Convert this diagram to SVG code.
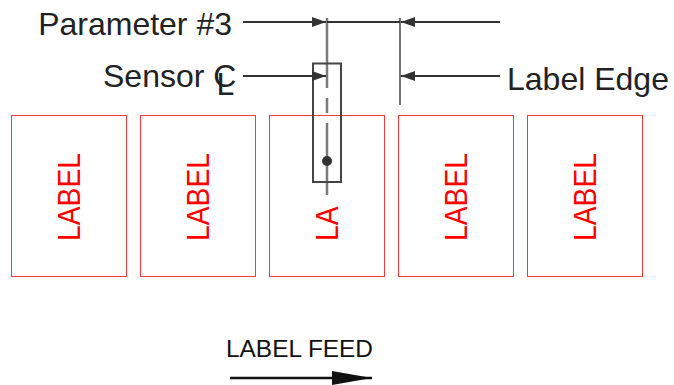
<svg xmlns="http://www.w3.org/2000/svg" width="674" height="385" viewBox="0 0 674 385">
<style>
.box{fill:none;stroke:#f03a3a;stroke-width:1}
.lbl{font-family:"Liberation Sans",Arial,sans-serif;font-size:31px;fill:#ff0000}
.call{font-family:"Liberation Sans",Arial,sans-serif;font-size:32px;fill:#222}
.dim{stroke:#333;stroke-width:2;fill:none}
.ext{stroke:#444;stroke-width:1.5;fill:none}
</style>
<defs>
<marker id="ah" viewBox="0 0 14 10" refX="14" refY="5" markerWidth="14" markerHeight="10" markerUnits="userSpaceOnUse" orient="auto">
<path d="M0,0 L14,5 L0,10 Z" fill="#333"/>
</marker>
<marker id="feed" viewBox="0 0 40 14" refX="40" refY="7" markerWidth="40" markerHeight="14" markerUnits="userSpaceOnUse" orient="auto">
<path d="M0,0 L40,7 L0,14 Z" fill="#111"/>
</marker>
</defs>
<rect width="674" height="385" fill="#fff"/>
<g id="label1"><rect class="box" x="11.5" y="115.5" width="115" height="161"/><text class="lbl" transform="translate(80,241) rotate(-90)" textLength="88" lengthAdjust="spacingAndGlyphs">LABEL</text></g>
<g id="label2"><rect class="box" x="140.5" y="115.5" width="115" height="161"/><text class="lbl" transform="translate(209,241) rotate(-90)" textLength="88" lengthAdjust="spacingAndGlyphs">LABEL</text></g>
<g id="label3"><rect class="box" x="269.5" y="115.5" width="115" height="161"/><text class="lbl" transform="translate(338,241) rotate(-90)" textLength="34.5" lengthAdjust="spacingAndGlyphs">LA</text></g>
<g id="label4"><rect class="box" x="398.5" y="115.5" width="115" height="161"/><text class="lbl" transform="translate(467,241) rotate(-90)" textLength="88" lengthAdjust="spacingAndGlyphs">LABEL</text></g>
<g id="label5"><rect class="box" x="527.5" y="115.5" width="115" height="161"/><text class="lbl" transform="translate(596,241) rotate(-90)" textLength="88" lengthAdjust="spacingAndGlyphs">LABEL</text></g>
<g id="sensor">
<line x1="327" y1="18" x2="327" y2="88" stroke="#7a7a7a" stroke-width="2.5"/>
<line x1="327" y1="98" x2="327" y2="113" stroke="#7a7a7a" stroke-width="2.5"/>
<line x1="327" y1="123" x2="327" y2="195" stroke="#7a7a7a" stroke-width="2.5"/>
<rect x="313" y="63.5" width="28" height="118.5" fill="none" stroke="#444" stroke-width="2"/>
<circle cx="327" cy="161" r="5" fill="#333"/>
</g>
<g id="edge"><line class="ext" x1="400" y1="18" x2="400" y2="105"/></g>
<g id="callouts">
<text class="call" x="232" y="35" text-anchor="end">Parameter #3</text>
<text class="call" x="103" y="87">Sensor C<tspan dx="-20" dy="8">L</tspan></text>
<text class="call" x="507" y="90">Label Edge</text>
<text x="226" y="357" font-family="Liberation Sans,Arial,sans-serif" font-size="23" fill="#111" textLength="147" lengthAdjust="spacingAndGlyphs">LABEL FEED</text>
</g>
<g id="connectors">
<line class="dim" x1="243" y1="22" x2="326" y2="22" marker-end="url(#ah)"/>
<line class="dim" x1="327" y1="22" x2="400" y2="22"/>
<line class="dim" x1="500" y1="22" x2="401" y2="22" marker-end="url(#ah)"/>
<line class="dim" x1="243" y1="76" x2="326" y2="76" marker-end="url(#ah)"/>
<line class="dim" x1="500" y1="76" x2="401" y2="76" marker-end="url(#ah)"/>
<line x1="230" y1="378" x2="372" y2="378" stroke="#111" stroke-width="2.5" marker-end="url(#feed)"/>
</g>
</svg>
